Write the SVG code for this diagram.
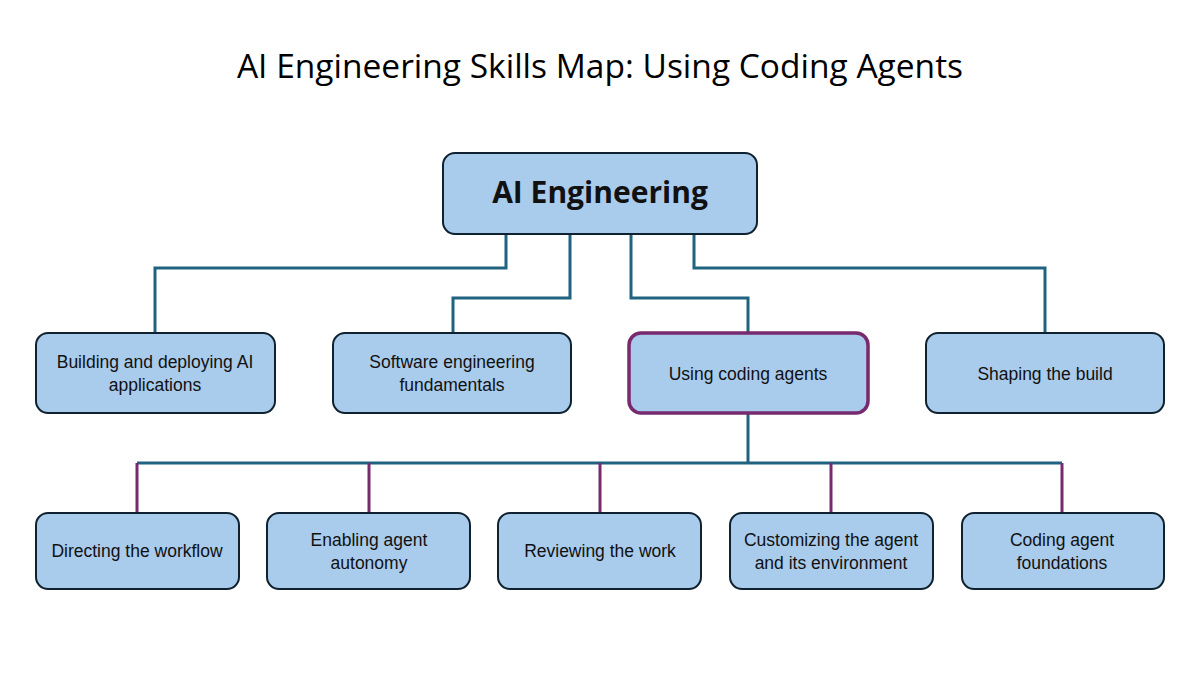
<svg xmlns="http://www.w3.org/2000/svg" width="1200" height="675" viewBox="0 0 1200 675">
<style>
.b{fill:#a9cbec;stroke:#10222f;stroke-width:2}
.t{font-family:"Liberation Sans",Arial,sans-serif;font-size:17.5px;fill:#111;text-anchor:middle}
.c{fill:none;stroke:#1f6380;stroke-width:3}
.p{fill:none;stroke:#782a6e;stroke-width:3}
</style>
<rect width="1200" height="675" fill="#fff"/>
<text x="600" y="78" style="font-family:'Open Sans',sans-serif;font-size:33.5px;fill:#000;text-anchor:middle">AI Engineering Skills Map: Using Coding Agents</text>
<g id="connectors">
<path class="c" d="M506 234V268H155V333M570 234V298H453V333M694 234V268H1045V333M748 413V463M137 463H1062"/>
<path class="c" stroke-width="4" d="M631 234V298H748V333"/>
<path class="p" d="M137 463V513M369 463V513M600 463V513M831 463V513M1062 463V513"/>
</g>
<g id="root"><rect class="b" x="443" y="153" width="314" height="81" rx="12"/><text x="600" y="203" class="t" style="font-size:30px;font-weight:bold;font-family:'Open Sans',sans-serif">AI Engineering</text></g>
<g id="n1"><rect class="b" x="36" y="333" width="239" height="80" rx="12"/><text class="t" x="155" y="368">Building and deploying AI</text><text class="t" x="155" y="391">applications</text></g>
<g id="n2"><rect class="b" x="333" y="333" width="238" height="80" rx="12" stroke="#3b4a55"/><text class="t" x="452" y="368">Software engineering</text><text class="t" x="452" y="391">fundamentals</text></g>
<g id="n3"><rect class="b" x="629" y="333" width="239" height="80" rx="12" style="stroke:#782a6e;stroke-width:3.5"/><text class="t" x="748" y="380">Using coding agents</text></g>
<g id="n4"><rect class="b" x="926" y="333" width="238" height="80" rx="12"/><text class="t" x="1045" y="380">Shaping the build</text></g>
<g id="m1"><rect class="b" x="36" y="513" width="203" height="76" rx="12"/><text class="t" x="137" y="557">Directing the workflow</text></g>
<g id="m2"><rect class="b" x="267" y="513" width="203" height="76" rx="12"/><text class="t" x="369" y="546">Enabling agent</text><text class="t" x="369" y="569">autonomy</text></g>
<g id="m3"><rect class="b" x="498" y="513" width="203" height="76" rx="12"/><text class="t" x="600" y="557">Reviewing the work</text></g>
<g id="m4"><rect class="b" x="730" y="513" width="203" height="76" rx="12"/><text class="t" x="831" y="546">Customizing the agent</text><text class="t" x="831" y="569">and its environment</text></g>
<g id="m5"><rect class="b" x="962" y="513" width="202" height="76" rx="12"/><text class="t" x="1062" y="546">Coding agent</text><text class="t" x="1062" y="569">foundations</text></g>
</svg>
